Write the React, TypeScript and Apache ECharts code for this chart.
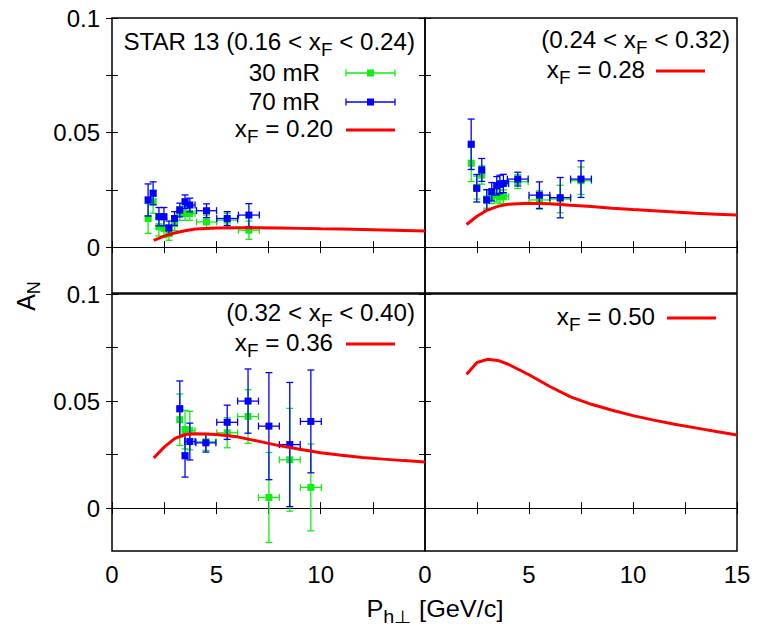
import React, { useEffect, useRef } from 'react';
import * as echarts from 'echarts';

const FONT = '"Liberation Sans", Arial, Helvetica, sans-serif';
const GREEN = '#11ee11';
const BLUE = '#0000ff';
const RED = '#ff0000';

// ---- data ----
const xTicks = [0, 2.5, 5, 7.5, 10, 12.5, 15];
const xLabelsLeft = [0, 5, 10];
const xLabelsRight = [0, 5, 10, 15];
const yTicks = [0, 0.025, 0.05, 0.075, 0.1];
const yLabels = [0, 0.05, 0.1];

// panel 1: 0.16 < xF < 0.24
const p1X = [1.73, 1.97, 2.25, 2.49, 2.73, 3.0, 3.25, 3.5, 3.73, 4.53, 5.52, 6.56];
const p1Xerr = [0.12, 0.12, 0.12, 0.12, 0.12, 0.12, 0.12, 0.12, 0.25, 0.48, 0.5, 0.5];
const p1Blue = [0.0206, 0.0235, 0.0133, 0.0133, 0.0084, 0.0125, 0.0162, 0.0198, 0.0184, 0.0159, 0.0125, 0.014];
const p1BlueErr = [0.007, 0.005, 0.004, 0.004, 0.003, 0.003, 0.003, 0.003, 0.003, 0.003, 0.003, 0.005];
const p1Green = [0.0125, 0.0198, 0.0089, 0.0082, 0.006, 0.0103, 0.0147, 0.0147, 0.0147, 0.011, 0.0118, 0.0074];
const p1GreenErr = [0.0065, 0.005, 0.004, 0.004, 0.003, 0.003, 0.003, 0.003, 0.003, 0.003, 0.003, 0.004];

// panel 2: 0.24 < xF < 0.32
const p2X = [2.22, 2.49, 2.73, 2.97, 3.21, 3.45, 3.6, 3.77, 4.46, 5.5, 6.5, 7.5];
const p2Xerr = [0.12, 0.12, 0.12, 0.12, 0.12, 0.12, 0.12, 0.25, 0.5, 0.5, 0.5, 0.5];
const p2Blue = [0.0449, 0.0257, 0.0337, 0.0206, 0.0242, 0.0268, 0.0274, 0.0278, 0.0297, 0.0227, 0.0216, 0.0297];
const p2BlueErr = [0.011, 0.006, 0.005, 0.0045, 0.004, 0.004, 0.004, 0.004, 0.003, 0.0058, 0.0088, 0.008];
const p2Green = [0.0366, 0.026, 0.0315, 0.021, 0.022, 0.0227, 0.022, 0.022, 0.0286, 0.0206, 0.021, 0.029];
const p2GreenErr = [0.008, 0.005, 0.004, 0.004, 0.003, 0.003, 0.003, 0.003, 0.003, 0.004, 0.006, 0.006];

// panel 3: 0.32 < xF < 0.40
const p3X = [3.25, 3.5, 3.73, 4.5, 5.52, 6.52, 7.52, 8.52, 9.53];
const p3Xerr = [0.12, 0.12, 0.25, 0.48, 0.5, 0.5, 0.5, 0.5, 0.5];
const p3Blue = [0.0464, 0.0245, 0.0311, 0.0305, 0.0401, 0.05, 0.0383, 0.0297, 0.0405];
const p3BlueErr = [0.013, 0.01, 0.0086, 0.0043, 0.008, 0.015, 0.025, 0.029, 0.024];
const p3Green = [0.0413, 0.0367, 0.0362, 0.031, 0.0352, 0.0428, 0.005, 0.0226, 0.0097];
const p3GreenErr = [0.012, 0.009, 0.009, 0.004, 0.007, 0.0125, 0.021, 0.024, 0.0203];

// theory curves
const curveX = [2, 2.5, 3, 3.5, 4, 5, 6, 7, 8, 9, 10, 11, 12, 13, 14, 15];
const curve020 = [0.003, 0.0048, 0.0062, 0.0072, 0.0079, 0.0084, 0.0085, 0.0085, 0.0084, 0.0082, 0.008, 0.0079, 0.0077, 0.0075, 0.0073, 0.0071];
const curve028 = [0.0099, 0.0135, 0.0162, 0.0178, 0.0187, 0.0192, 0.0189, 0.0183, 0.0177, 0.017, 0.0164, 0.0159, 0.0153, 0.0148, 0.0144, 0.014];
const curve036 = [0.0234, 0.0285, 0.0325, 0.0344, 0.0347, 0.0344, 0.0333, 0.0313, 0.0292, 0.0275, 0.0259, 0.0247, 0.0237, 0.0229, 0.0222, 0.0216];
const curve050 = [0.0625, 0.068, 0.0695, 0.069, 0.0672, 0.0623, 0.0568, 0.052, 0.0485, 0.0457, 0.0432, 0.0411, 0.0392, 0.0375, 0.0358, 0.0342];

const grids = [
  { left: 112, top: 18, width: 313, height: 275 },
  { left: 425, top: 18, width: 312, height: 275 },
  { left: 112, top: 294, width: 313, height: 257 },
  { left: 425, top: 294, width: 312, height: 257 },
];

function makeRender(color: string) {
  return (_params: any, api: any) => {
    const x = api.value(0), y = api.value(1), xe = api.value(2), ye = api.value(3);
    const c = api.coord([x, y]);
    const t = api.coord([x, y + ye]);
    const b = api.coord([x, y - ye]);
    const l = api.coord([x - xe, y]);
    const r = api.coord([x + xe, y]);
    const cap = 3.5;
    const st = { stroke: color, lineWidth: 1.3 };
    const ln = (x1: number, y1: number, x2: number, y2: number) => ({ type: 'line', shape: { x1, y1, x2, y2 }, style: st });
    return {
      type: 'group',
      children: [
        ln(c[0], t[1], c[0], b[1]),
        ln(c[0] - cap, t[1], c[0] + cap, t[1]),
        ln(c[0] - cap, b[1], c[0] + cap, b[1]),
        ln(l[0], c[1], r[0], c[1]),
        ln(l[0], c[1] - cap, l[0], c[1] + cap),
        ln(r[0], c[1] - cap, r[0], c[1] + cap),
        { type: 'rect', shape: { x: c[0] - 3.5, y: c[1] - 3.5, width: 7, height: 7 }, style: { fill: color } },
      ],
    };
  };
}

function errSeries(name: string, xs: number[], ys: number[], xerr: number[], yerr: number[], color: string, g: number) {
  return {
    name,
    type: 'custom',
    xAxisIndex: 2 * g,
    yAxisIndex: 2 * g,
    encode: { x: 0, y: 1 },
    data: xs.map((x, i) => [x, ys[i], xerr[i], yerr[i]]),
    renderItem: makeRender(color),
    z: 3,
  };
}

function curveSeries(name: string, ys: number[], g: number) {
  return {
    name,
    type: 'line',
    xAxisIndex: 2 * g,
    yAxisIndex: 2 * g,
    data: curveX.map((x, i) => [x, ys[i]]),
    showSymbol: false,
    symbol: 'none',
    lineStyle: { color: RED, width: 3 },
    z: 4,
    markLine: {
      silent: true,
      symbol: ['none', 'none'],
      label: { show: false },
      lineStyle: { color: '#000', width: 1, type: 'solid' },
      data: [{ yAxis: 0 }],
      z: 2,
    },
  };
}

const tickStyle = { show: true, inside: true, length: 6, lineStyle: { color: '#000', width: 1 } };
const labelFont = { fontFamily: FONT, fontSize: 24, color: '#000' };

function xAxes(g: number) {
  const bottomLabels = g === 2 ? xLabelsLeft : g === 3 ? xLabelsRight : [];
  return [
    {
      type: 'value', gridIndex: g, position: 'bottom', min: 0, max: 15,
      axisLine: { show: false }, splitLine: { show: false },
      axisTick: { ...tickStyle, customValues: xTicks },
      axisLabel: { show: bottomLabels.length > 0, customValues: bottomLabels, margin: 11, ...labelFont, formatter: (v: number) => String(v) },
    },
    {
      type: 'value', gridIndex: g, position: 'top', min: 0, max: 15,
      axisLine: { show: false }, splitLine: { show: false },
      axisTick: { ...tickStyle, customValues: xTicks },
      axisLabel: { show: false },
    },
  ];
}

function yAxes(g: number) {
  const left = g === 0 || g === 2;
  return [
    {
      type: 'value', gridIndex: g, position: 'left', min: -0.02, max: 0.1,
      axisLine: { show: false }, splitLine: { show: false },
      axisTick: { ...tickStyle, customValues: yTicks },
      axisLabel: { show: left, customValues: yLabels, margin: 12, ...labelFont, formatter: (v: number) => (v === 0 ? '0' : String(v)) },
    },
    {
      type: 'value', gridIndex: g, position: 'right', min: -0.02, max: 0.1,
      axisLine: { show: false }, splitLine: { show: false },
      axisTick: { ...tickStyle, customValues: yTicks },
      axisLabel: { show: false },
    },
  ];
}

const rich = {
  sub: { fontFamily: FONT, fontSize: 18, fill: '#000', padding: [16, 0, 0, 0] },
};

function label(text: string, right: number, y: number, align = 'right', scale = 1.05, rotation = 0, size = 23) {
  return {
    type: 'text', x: right, y, scaleX: scale, rotation, z: 10,
    style: { text, align, verticalAlign: 'middle', fontFamily: FONT, fontSize: size, fill: '#000', rich },
  };
}

function redKey(x1: number, x2: number, y: number) {
  return { type: 'line', z: 10, shape: { x1, y1: y, x2, y2: y }, style: { stroke: RED, lineWidth: 3 } };
}

function pointKey(x1: number, x2: number, y: number, color: string) {
  const st = { stroke: color, lineWidth: 1.3 };
  const cx = (x1 + x2) / 2;
  return {
    type: 'group', z: 10,
    children: [
      { type: 'line', shape: { x1, y1: y, x2, y2: y }, style: st },
      { type: 'line', shape: { x1, y1: y - 3.5, x2: x1, y2: y + 3.5 }, style: st },
      { type: 'line', shape: { x1: x2, y1: y - 3.5, x2, y2: y + 3.5 }, style: st },
      { type: 'rect', shape: { x: cx - 3.5, y: y - 3.5, width: 7, height: 7 }, style: { fill: color } },
    ],
  };
}

export default function App() {
  const ref = useRef<HTMLDivElement>(null);
  useEffect(() => {
    document.body.style.margin = '0';
    if (!ref.current) return;
    const chart = echarts.init(ref.current, null, { renderer: 'svg' });
    const option: any = {
      animation: false,
      backgroundColor: '#fff',
      grid: grids.map((g) => ({ ...g, show: true, borderColor: '#000', borderWidth: 1.5, backgroundColor: 'transparent' })),
      xAxis: [0, 1, 2, 3].flatMap((g) => xAxes(g)),
      yAxis: [0, 1, 2, 3].flatMap((g) => yAxes(g)),
      series: [
        errSeries('30 mR', p1X, p1Green, p1Xerr, p1GreenErr, GREEN, 0),
        errSeries('70 mR', p1X, p1Blue, p1Xerr, p1BlueErr, BLUE, 0),
        curveSeries('xF = 0.20', curve020, 0),
        errSeries('30 mR', p2X, p2Green, p2Xerr, p2GreenErr, GREEN, 1),
        errSeries('70 mR', p2X, p2Blue, p2Xerr, p2BlueErr, BLUE, 1),
        curveSeries('xF = 0.28', curve028, 1),
        errSeries('30 mR', p3X, p3Green, p3Xerr, p3GreenErr, GREEN, 2),
        errSeries('70 mR', p3X, p3Blue, p3Xerr, p3BlueErr, BLUE, 2),
        curveSeries('xF = 0.36', curve036, 2),
        curveSeries('xF = 0.50', curve050, 3),
      ],
      graphic: [
        label('STAR 13 (0.16 < x{sub|F} < 0.24)', 415, 42),
        label('30 mR', 320, 73),
        pointKey(346, 395, 73, GREEN),
        label('70 mR', 320, 102),
        pointKey(346, 395, 102, BLUE),
        label('x{sub|F} = 0.20', 333, 129),
        redKey(346, 395, 130),
        label('(0.24 < x{sub|F} < 0.32)', 730, 40),
        label('x{sub|F} = 0.28', 645, 70),
        redKey(656, 705, 71),
        label('(0.32 < x{sub|F} < 0.40)', 415, 313),
        label('x{sub|F} = 0.36', 333, 343),
        redKey(346, 395, 344),
        label('x{sub|F} = 0.50', 655, 317),
        redKey(667, 716, 318),
        label('P{sub|h⊥} [GeV/c]', 435, 609, 'center', 1.1),
        label('A{sub|N}', 26, 296, 'center', 1.0, Math.PI / 2, 25),
      ],
    };
    chart.setOption(option);
    return () => chart.dispose();
  }, []);
  return <div ref={ref} style={{ width: 757, height: 631 }} />;
}
